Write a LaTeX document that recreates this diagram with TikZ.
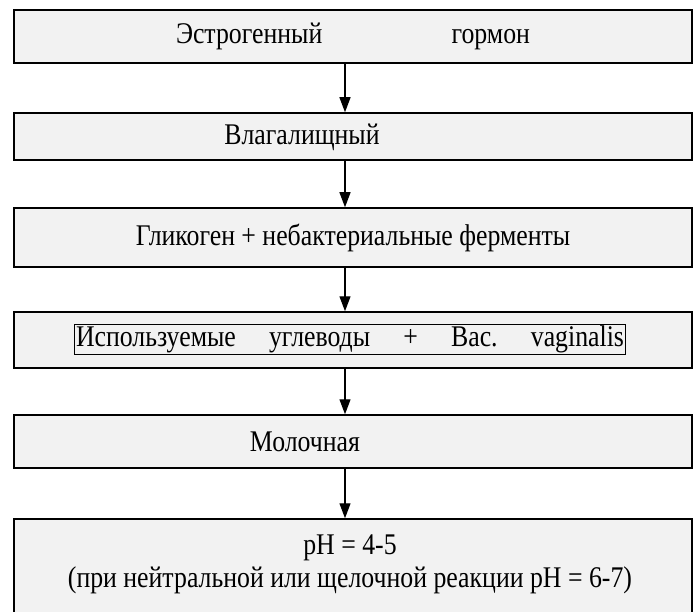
\documentclass[tikz,border=0pt]{standalone}
\usepackage{fontspec}
\setmainfont[FakeStretch=0.86]{Liberation Serif}
\usetikzlibrary{arrows.meta}
\tikzset{
  stage/.style={draw, line width=1.5pt, fill=black!5, minimum width=678pt, inner sep=0pt},
  flow/.style={line width=1.3pt, -{Triangle[length=15pt,width=11pt]}},
}
\begin{document}
\begin{tikzpicture}[x=1pt,y=-1pt,font=\fontsize{30}{33}\selectfont]
  \useasboundingbox (0,0) rectangle (695,612);
  \clip (0,0) rectangle (695,612);
  \coordinate (axis) at (345,0);
  \node[stage, minimum height=53pt] (hormone) at (353,36.5) {\makebox[354pt][s]{Эстрогенный гормон}};
  \node[stage, minimum height=47pt] (vagina) at (353,136.5) {};
  \node (vaginatext) at (302,137) {Влагалищный};
  \node[stage, minimum height=59pt] (glycogen) at (353,237.5) {Гликоген + небактериальные ферменты};
  \node[stage, minimum height=56pt] (carbs) at (353,340) {};
  \node[draw, line width=1.5pt, inner sep=1.5pt] (carbstext) at (350,339.5) {\makebox[548pt][s]{Используемые углеводы + Bac.\ vaginalis}};
  \node[stage, minimum height=53pt] (lactic) at (353,441.5) {};
  \node (lactictext) at (305,442) {Молочная};
  \node[stage, minimum height=130pt] (acidity) at (353,584) {};
  \node[align=center] (aciditytext) at (350,564) {pH = 4-5\\(при нейтральной или щелочной реакции pH = 6-7)};
  \draw[flow] (hormone.south -| axis) -- (vagina.north -| axis);
  \draw[flow] (vagina.south -| axis) -- (glycogen.north -| axis);
  \draw[flow] (glycogen.south -| axis) -- (carbs.north -| axis);
  \draw[flow] (carbs.south -| axis) -- (lactic.north -| axis);
  \draw[flow] (lactic.south -| axis) -- (acidity.north -| axis);
\end{tikzpicture}
\end{document}
